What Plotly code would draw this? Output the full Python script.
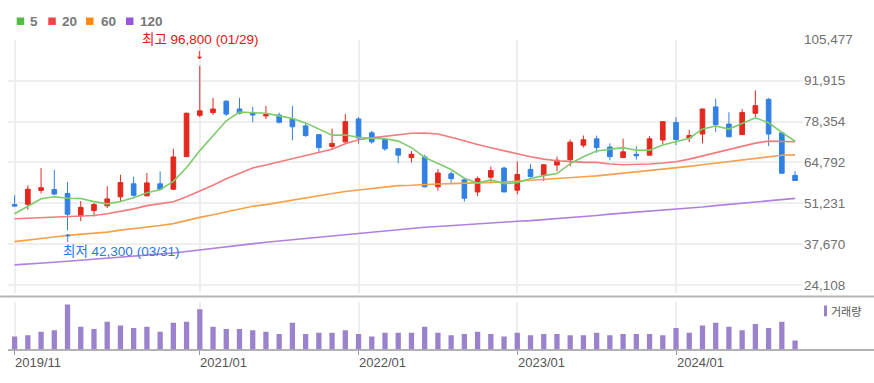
import plotly.graph_objects as go

months = [
    "2019/11", "2019/12",
    "2020/01", "2020/02", "2020/03", "2020/04", "2020/05", "2020/06",
    "2020/07", "2020/08", "2020/09", "2020/10", "2020/11", "2020/12",
    "2021/01", "2021/02", "2021/03", "2021/04", "2021/05", "2021/06",
    "2021/07", "2021/08", "2021/09", "2021/10", "2021/11", "2021/12",
    "2022/01", "2022/02", "2022/03", "2022/04", "2022/05", "2022/06",
    "2022/07", "2022/08", "2022/09", "2022/10", "2022/11", "2022/12",
    "2023/01", "2023/02", "2023/03", "2023/04", "2023/05", "2023/06",
    "2023/07", "2023/08", "2023/09", "2023/10", "2023/11", "2023/12",
    "2024/01", "2024/02", "2024/03", "2024/04", "2024/05", "2024/06",
    "2024/07", "2024/08", "2024/09", "2024/10",
]

opens = [50800, 50900, 55500, 55800, 54500, 47100, 48800, 50400, 53400, 57700,
         53700, 57700, 55900, 66700, 80400, 81300, 85100, 82500, 81100, 80200,
         80500, 79200, 76900, 74000, 70100, 71600, 79200, 74600, 72400, 69300,
         66400, 66600, 56700, 61000, 59000, 55000, 59900, 62900, 55600, 62500,
         60700, 63900, 65700, 70500, 72600, 69900, 66400, 67500, 67200, 72200,
         78000, 72900, 74200, 83200, 77500, 74000, 81100, 85700, 74600, 60500]
highs = [53900, 57200, 62900, 62300, 58300, 52000, 51400, 56900, 60700, 60100,
         61300, 61800, 69300, 81300, 96800, 86200, 85400, 86200, 83200, 83500,
         81300, 83500, 77700, 74200, 76000, 80800, 79800, 75300, 72900, 69500,
         68600, 67300, 62600, 61800, 59400, 60100, 63400, 63400, 65100, 64200,
         64200, 66700, 72400, 73700, 73700, 71100, 72700, 70200, 73500, 78500,
         79800, 75600, 82600, 85900, 81400, 82500, 88700, 86200, 74700, 61900]
lows = [50100, 49100, 54500, 53900, 42300, 45300, 46900, 49700, 51800, 53400,
        53600, 55600, 55600, 66600, 79800, 80500, 80200, 80700, 78100, 79200,
        77700, 72100, 73300, 68000, 69100, 71100, 71000, 71000, 68600, 64500,
        64800, 56500, 55400, 58000, 51800, 53600, 58000, 54900, 54200, 59700,
        58600, 61800, 63500, 69700, 68000, 65500, 66300, 65700, 67100, 70800,
        70500, 71500, 71100, 74900, 73100, 73900, 79800, 70200, 61100, 58700]
closes = [50300, 55900, 56400, 54300, 47600, 49900, 50800, 52700, 58100, 53900,
          58000, 55900, 66600, 81100, 81900, 82500, 80800, 81100, 80500, 80600,
          78100, 76600, 73700, 69700, 71100, 78300, 72900, 71600, 69300, 67200,
          67500, 56700, 61300, 59400, 52900, 59400, 62100, 55000, 60800, 60100,
          64000, 65500, 71500, 72300, 69700, 66700, 68300, 67000, 72600, 78300,
          72400, 73700, 82500, 77300, 73300, 81300, 83600, 74200, 61200, 58800]

ma5 = [47760, 50140, 52750, 53400, 52900, 52820, 51800, 51060, 51820, 53080,
       54700, 55720, 58500, 63100, 68700, 73600, 78580, 81480, 81360, 81100,
       80220, 79380, 77900, 75740, 73840, 73880, 73140, 72720, 72640, 71860,
       69700, 66460, 64400, 62420, 59560, 57940, 59020, 57760, 58040, 59480,
       60400, 61080, 64380, 66680, 68600, 69140, 69700, 68800, 68860, 70580,
       71720, 72800, 75900, 76840, 75840, 77620, 79600, 77940, 74720, 71820]
ma20 = [46130, 46350, 46560, 46780, 46890, 47100, 47210, 47760, 48520, 49380,
        50470, 51010, 51770, 53400, 55240, 57200, 59370, 61210, 62950, 63920,
        65010, 65980, 66960, 68050, 69130, 70980, 72280, 72930, 73470, 74010,
        74450, 74560, 74230, 73150, 71840, 70760, 69670, 68590, 67500, 66640,
        65880, 65330, 65120, 64790, 64790, 64250, 64030, 64030, 64250, 64570,
        65010, 65880, 66960, 68050, 69130, 70220, 71190, 71840, 71840, 71630]
ma60 = [38530, 38970, 39510, 40050, 40600, 40920, 41250, 41680, 42330, 42770,
        43310, 43850, 44500, 45590, 46560, 47430, 48410, 49380, 50250, 50790,
        51550, 52420, 53180, 53940, 54480, 55130, 55680, 56220, 56760, 57090,
        57200, 57520, 57630, 57740, 57960, 58060, 58170, 58280, 58610, 58930,
        59040, 59370, 59690, 60020, 60340, 60780, 61210, 61640, 62190, 62400,
        62950, 63490, 64030, 64570, 65120, 65660, 66200, 66740, 67180, 67290]
ma120 = [30830, 31050, 31370, 31700, 32020, 32350, 32670, 33000, 33330, 33650,
         33870, 34300, 34740, 35280, 35820, 36360, 36910, 37450, 37990, 38320,
         38750, 39180, 39620, 40050, 40490, 40920, 41350, 41790, 42220, 42660,
         42980, 43310, 43520, 43850, 44180, 44390, 44720, 44940, 45260, 45480,
         45800, 46130, 46560, 46890, 47210, 47650, 47970, 48300, 48620, 48840,
         49170, 49600, 50030, 50470, 50900, 51340, 51770, 52200, 52530, 52850]

volume = [288, 317, 396, 425, 994, 504, 454, 612, 533, 475,
          504, 396, 590, 612, 886, 504, 454, 454, 425, 396,
          346, 590, 346, 374, 374, 425, 346, 288, 374, 374,
          374, 504, 374, 317, 346, 396, 346, 288, 374, 317,
          346, 346, 317, 317, 374, 317, 346, 346, 346, 317,
          475, 374, 533, 590, 504, 425, 562, 475, 612, 202]

y_ticks = [24108, 37670, 51231, 64792, 78354, 91915, 105477]
x_tick_labels = ["2019/11", "2021/01", "2022/01", "2023/01", "2024/01"]

ma_names = ["5", "20", "60", "120"]
ma_series = [ma5, ma20, ma60, ma120]
ma_line_colors = ["#7dcb6c", "#f27b7b", "#f8a04a", "#b080e0"]
ma_legend_colors = ["#55bb44", "#ee4444", "#ff8811", "#9955dd"]

UP = "#e3281d"
DOWN = "#3180e3"

W, H = 874, 383
L, R = 8, 71
PW = W - L - R


def px(xp):
    return (xp - L) / PW


def py(yp):
    return 1 - yp / H


fig = go.Figure()

for name, vals, col in zip(ma_names[::-1], ma_series[::-1], ma_line_colors[::-1]):
    fig.add_trace(go.Scatter(x=months, y=vals, mode="lines", name=name,
                             line=dict(color=col, width=1.6),
                             xaxis="x", yaxis="y", showlegend=False, hoverinfo="skip"))

fig.add_trace(go.Candlestick(
    x=months, open=opens, high=highs, low=lows, close=closes,
    increasing=dict(line=dict(color=UP, width=1), fillcolor=UP),
    decreasing=dict(line=dict(color=DOWN, width=1), fillcolor=DOWN),
    whiskerwidth=0, xaxis="x", yaxis="y", showlegend=False,
))

fig.add_trace(go.Bar(x=months, y=volume, marker=dict(color="#9b82cc", line=dict(width=0)),
                     width=0.4, xaxis="x2", yaxis="y2", showlegend=False))

tick_font = dict(family="Liberation Sans, Arial, sans-serif", size=13.5, color="#707070")

vol_max = max(volume) * 49 / 46

fig.update_layout(
    width=W, height=H,
    margin=dict(l=L, r=R, t=0, b=0),
    paper_bgcolor="white", plot_bgcolor="white",
    boxgap=0.5,
    xaxis=dict(type="category", domain=[0, 1], range=[-0.5, 59.6], anchor="y",
               tickvals=x_tick_labels, showticklabels=False, ticks="",
               showgrid=True, gridcolor="#eeeeee", gridwidth=1.5,
               zeroline=False, showline=False, rangeslider=dict(visible=False)),
    yaxis=dict(domain=[py(291), py(33.3)], range=[21600, 105477], side="right",
               tickvals=y_ticks, ticktext=[f"{v:,}" for v in y_ticks],
               tickfont=tick_font, ticks="", showgrid=True, gridcolor="#eeeeee",
               gridwidth=1.5, zeroline=False, showline=False),
    xaxis2=dict(type="category", domain=[0, 1], range=[-0.5, 59.6], anchor="y2",
                tickvals=x_tick_labels, showticklabels=False, ticks="outside",
                ticklen=4, tickcolor="#999999", tickwidth=1,
                showgrid=True, gridcolor="#eeeeee", gridwidth=1.5,
                zeroline=False, showline=False),
    yaxis2=dict(domain=[py(349), py(300)], range=[0, vol_max], showgrid=False,
                showticklabels=False, zeroline=False, showline=False),
    font=dict(family="Liberation Sans, Arial, sans-serif"),
)

shapes = [
    dict(type="line", xref="paper", yref="paper", x0=px(0), x1=px(W), y0=py(295), y1=py(295),
         line=dict(color="#b5b5b5", width=2)),
    dict(type="line", xref="paper", yref="paper", x0=px(8), x1=px(W), y0=py(349.5), y1=py(349.5),
         line=dict(color="#999999", width=1.5)),
]

annotations = []

# top MA legend
sq_x = [16.7, 48.3, 86, 126]
txt_x = [28, 60, 99, 138]
leg_y = 14.5
for name, col, sx, tx in zip(ma_names, ma_legend_colors, sq_x, txt_x):
    shapes.append(dict(type="rect", xref="paper", yref="paper",
                       x0=px(sx), x1=px(sx + 7.5), y0=py(leg_y + 3.8), y1=py(leg_y - 3.8),
                       fillcolor=col, line=dict(width=0)))
    annotations.append(dict(xref="paper", yref="paper", x=px(tx), y=py(leg_y),
                            xanchor="left", yanchor="middle", showarrow=False,
                            text=f"<b>{name}</b>",
                            font=dict(family="Liberation Sans, Arial, sans-serif",
                                      size=13.5, color="#777777")))

# volume legend
shapes.append(dict(type="rect", xref="paper", yref="paper",
                   x0=px(824), x1=px(827), y0=py(315), y1=py(304),
                   fillcolor="#9b82cc", line=dict(width=0)))
annotations.append(dict(xref="paper", yref="paper", x=px(829), y=py(309.5),
                        xanchor="left", yanchor="middle", showarrow=False, text="거래량",
                        font=dict(family="Noto Sans CJK KR", size=11, color="#555555")))

# x tick labels (left aligned at tick)
for lab in x_tick_labels:
    annotations.append(dict(xref="x2", yref="paper", x=lab, y=py(362.5),
                            xanchor="left", yanchor="middle", showarrow=False, text=lab,
                            xshift=-1.5,
                            font=dict(family="Liberation Sans, Arial, sans-serif",
                                      size=13, color="#555555")))

# high / low markers
mixed_font = "Liberation Sans, Noto Sans CJK KR, sans-serif"
hi_i = highs.index(max(highs))
lo_i = lows.index(min(lows))
annotations.append(dict(xref="x", yref="y", x=months[hi_i], y=highs[hi_i], yshift=26,
                        xanchor="center", yanchor="middle", showarrow=False,
                        text=f"최고 {highs[hi_i]:,} (01/29)",
                        font=dict(family=mixed_font, size=13.5, color="#f01010")))
annotations.append(dict(xref="x", yref="y", x=months[hi_i], y=highs[hi_i], yshift=10,
                        xanchor="center", yanchor="middle", showarrow=False, text="↓",
                        font=dict(family="DejaVu Sans", size=11, color="#f01010")))
annotations.append(dict(xref="x", yref="y", x=months[lo_i], y=lows[lo_i], yshift=-21,
                        xshift=-7, xanchor="left", yanchor="middle", showarrow=False,
                        text=f"최저 {lows[lo_i]:,} (03/31)",
                        font=dict(family=mixed_font, size=13.5, color="#2a78e0")))
annotations.append(dict(xref="x", yref="y", x=months[lo_i], y=lows[lo_i], yshift=-8,
                        xanchor="center", yanchor="middle", showarrow=False, text="↑",
                        font=dict(family="DejaVu Sans", size=11, color="#2a78e0")))

fig.update_layout(shapes=shapes, annotations=annotations)

fig.write_html("out.html", config={"displayModeBar": False},
               post_script="document.body.style.margin='0';document.body.style.overflow='hidden';")
